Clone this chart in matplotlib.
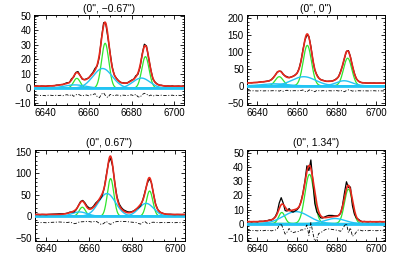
import numpy as np
import matplotlib
matplotlib.use("Agg")
import matplotlib.pyplot as plt
from matplotlib.ticker import MultipleLocator, AutoMinorLocator

plt.rcParams['font.family'] = ['Liberation Sans', 'DejaVu Sans']

# panel titles (slit offsets)
titles = ['(0", \u22120.67")', '(0", 0")', '(0", 0.67")', '(0", 1.34")']

# observed wavelength grid (1 A pixels)
wave = np.arange(6635, 6706)

# fitted components, one row per panel: [NII]6548, Halpha, [NII]6583
narrow_center = [[6654.5, 6667.7, 6686.5],
                 [6651.0, 6665.2, 6685.6],
                 [6656.8, 6670.0, 6688.2],
                 [6652.3, 6666.3, 6686.0]]
narrow_amp = [[6.8, 31.0, 21.8],
              [27.0, 120.0, 82.0],
              [21.0, 88.0, 59.0],
              [7.9, 35.0, 24.5]]
narrow_sigma = [[1.6, 1.7, 1.7],
                [2.0, 2.1, 2.1],
                [1.5, 1.5, 1.5],
                [1.6, 2.3, 2.0]]

broad_center = [[6653.5, 6666.5, 6684.6],
                [6648.5, 6663.4, 6683.8],
                [6655.5, 6668.3, 6686.6],
                [6659.5, 6679.2]]
broad_amp = [[2.3, 13.6, 7.0],
             [6.0, 27.0, 15.0],
             [10.0, 53.0, 30.0],
             [8.5, 3.6]]
broad_sigma = [[5.0, 4.5, 4.0],
               [6.0, 6.0, 4.0],
               [3.5, 4.0, 3.5],
               [6.5, 5.0]]

continuum = [1.4, 8.0, 4.0, 1.3]

# data - model, on the wave grid
resid = [
    [0, 0.2, -0.1, 0.1, 0, -0.2, 0.1, 0.2, 0, -0.1, 0.2, 0, 0.1, -0.2, 0.3,
     0.5, -0.3, 0.8, -0.6, 0.4, 0.9, 0.2, -0.4,
     0.1, 0.3, -0.2, 0.4, 0.6,
     1.2, -0.8, -1.6, 0.9, 1.8, -0.5, -1.4, 0.7, 0.2,
     -0.2, 0.3, 0.1, -0.3, 0.2, 0.1, -0.2, 0.3, 0.4, -0.2,
     0.8, -0.9, -1.2, 0.6, 1.5, 1.0, -0.4, 0.3, -0.5, 0.2,
     0.1, -0.1, 0.2, 0, -0.1, 0.1, 0, 0.2, -0.1, 0, 0.1, -0.1, 0, 0.1],
    [0, 0.5, -0.3, 0.4, 0, -0.4, 0.3, 0.6, -0.2, 0.1, 0.4, -0.3, 0.2, 0.5, -0.2,
     1.0, -0.8, 1.5, -1.2, 0.8, 1.8, -0.6, 0.4,
     0.2, 0.6, -0.4, 0.8, 1.2,
     2.5, -1.5, -3.0, 2.0, 3.5, -1.0, -2.5, 1.5, 0.4,
     -0.5, 0.6, 0.3, -0.6, 0.4, 0.2, -0.4, 0.6, 0.8, -0.4,
     1.8, -1.5, -2.5, 1.2, 3.0, 1.8, -0.8, 0.6, -1.0, 0.4,
     0.2, -0.3, 0.4, 0, -0.2, 0.3, 0, 0.4, -0.2, 0, 0.2, -0.2, 0, 0.3],
    [0, 0.4, -0.3, 0.2, 0, -0.3, 0.2, 0.5, 0.8, 1.0, 1.2, 1.5, 1.2, 0.8, 0.5,
     0.5, 1.2, -0.5, -2.5, -1.5, 0.8, 1.8, 2.0,
     2.5, 3.0, 2.5, 1.5, 2.0,
     3.5, 1.0, -3.0, -4.5, -1.0, 3.0, -2.0, -4.0, -1.0,
     1.5, 2.5, 3.0, 3.0, 2.5, 2.8, 2.0, 1.5, 1.0, 0.5,
     0.0, -2.0, -3.5, 0.5, 2.5, -1.5, -2.5, 0.5, 1.0, 0.3,
     0.2, -0.2, 0.3, 0, -0.3, 0.2, 0.4, 0, -0.2, 0.1, 0, -0.2, 0.1, 0],
    [0, 0.2, -0.2, 0.1, 0, -0.2, 0.2, 0.1, -0.1, 0.2, 0, 0.3, -0.2, 0.1, 0.4,
     1.0, 4.0, 5.0, 1.0, -2.5, -1.0, 1.5, -0.5,
     -1.5, -1.0, -0.8, -0.5, 0.5,
     0.5, 1.0, 4.0, -3.5, 6.0, -1.5, -8.0, -5.5, -2.0,
     -1.5, -0.5, 0.5, 1.0, 1.2, 1.0, 0.8, 0.5, 0.3, 0.0,
     -0.5, 1.0, 3.5, 5.0, -1.5, 2.0, -4.0, -3.0, -1.0, 0.5,
     0.3, -0.2, 0.2, 0, -0.1, 0.2, 0, 0.1, -0.1, 0, 0.2, -0.1, 0, 0.1],
]
resid_offset = [-5, -15, -15, -5]

ylims = [(-11.6, 50.5), (-57, 210), (-58, 155), (-12.4, 52.4)]
ymajor = [10, 50, 50, 10]
xlim = (6634.5, 6704.5)

axpos = [[0.0852, 0.6125, 0.376, 0.332],
         [0.618, 0.6125, 0.347, 0.332],
         [0.0865, 0.1107, 0.376, 0.336],
         [0.618, 0.1107, 0.347, 0.336]]

RED = '#e8281c'
GREEN = '#2ee62e'
CYAN = '#22c4f4'


def gauss(x, c, a, s):
    return a * np.exp(-0.5 * ((x - c) / s) ** 2)


fig = plt.figure(figsize=(3.99, 2.71), dpi=100)
xf = np.linspace(xlim[0], xlim[1], 700)

for k in range(4):
    ax = fig.add_axes(axpos[k])
    narrow = [gauss(xf, c, a, s) for c, a, s in zip(narrow_center[k], narrow_amp[k], narrow_sigma[k])]
    broad = [gauss(xf, c, a, s) for c, a, s in zip(broad_center[k], broad_amp[k], broad_sigma[k])]
    model = continuum[k] + sum(narrow) + sum(broad)

    model_px = continuum[k] + sum(gauss(wave, c, a, s) for c, a, s in
                                  zip(narrow_center[k] + broad_center[k],
                                      narrow_amp[k] + broad_amp[k],
                                      narrow_sigma[k] + broad_sigma[k]))
    r = np.array(resid[k])
    obs = model_px + r

    for n in narrow:
        ax.plot(xf, n, color=GREEN, lw=0.9, zorder=2)
    for b in broad:
        ax.plot(xf, b, color=CYAN, lw=1.0, zorder=3)
    ax.axhline(0, color=CYAN, lw=2.0, zorder=3.5)
    ax.plot(wave, obs, color='black', lw=0.9, zorder=4)
    ax.plot(xf, model, color=RED, lw=1.2, zorder=5)
    ax.plot(wave, r + resid_offset[k], color='black', lw=0.6,
            dashes=(4, 2, 1.2, 2), zorder=4)

    ax.set_xlim(xlim)
    ax.set_ylim(ylims[k])
    ax.xaxis.set_major_locator(MultipleLocator(20))
    ax.xaxis.set_minor_locator(AutoMinorLocator(4))
    ax.yaxis.set_major_locator(MultipleLocator(ymajor[k]))
    ax.yaxis.set_minor_locator(AutoMinorLocator(5))
    ax.tick_params(which='both', direction='in', top=True, right=True, labelsize=7, pad=2, width=0.6)
    ax.tick_params(which='major', length=3)
    ax.tick_params(which='minor', length=1.5)
    for sp in ax.spines.values():
        sp.set_linewidth(0.7)
    ax.set_title(titles[k], fontsize=7.5, pad=2.5)

fig.savefig('out.png', dpi=100)
